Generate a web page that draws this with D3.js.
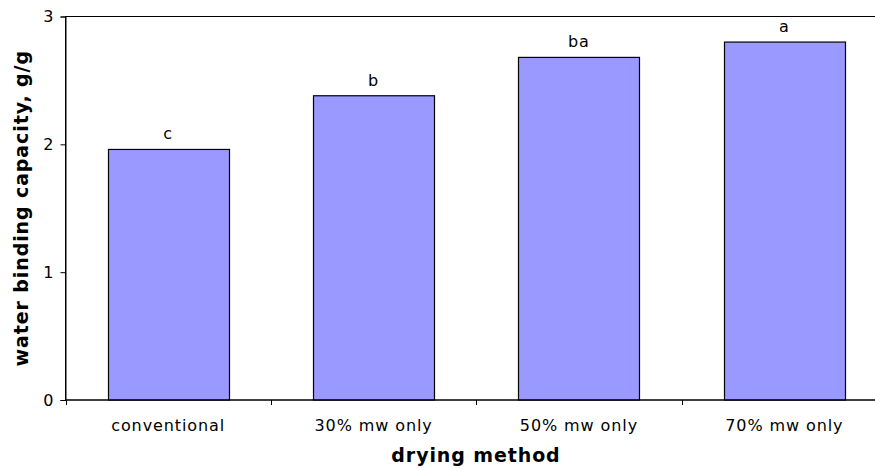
<!DOCTYPE html>
<html>
<head>
<meta charset="utf-8">
<script src="https://cdn.jsdelivr.net/npm/d3@7"></script>
<style>
  html, body { margin: 0; padding: 0; background: #fff; }
  svg { display: block; }
  text { font-family: "DejaVu Sans", Verdana, sans-serif; fill: #000; }
</style>
</head>
<body>
<svg id="chart" width="875" height="470"></svg>
<script>
// Water binding capacity by drying method
const categories = ["conventional", "30% mw only", "50% mw only", "70% mw only"];
const values = [1.96, 2.38, 2.68, 2.80];
const groupLetters = ["c", "b", "ba", "a"];
const yTicks = [0, 1, 2, 3];

const svg = d3.select("#chart");
const margin = { left: 65.5, top: 16.5, right: 887, bottom: 400 };
const labelFont = "16px";
const labelSpacing = "0.9px";

const x = d3.scaleBand()
  .domain(categories)
  .range([margin.left, margin.right])
  .paddingInner(0.41)
  .paddingOuter(0.205);

const y = d3.scaleLinear()
  .domain([0, 3])
  .range([margin.bottom, margin.top]);

// plot area frame
svg.append("rect")
  .attr("x", margin.left)
  .attr("y", margin.top)
  .attr("width", margin.right - margin.left)
  .attr("height", margin.bottom - margin.top)
  .attr("fill", "none")
  .attr("stroke", "#000")
  .attr("stroke-width", 1);

// bars
svg.append("g").selectAll("rect")
  .data(categories)
  .join("rect")
  .attr("x", d => Math.round(x(d)) + 0.5)
  .attr("y", (d, i) => y(values[i]))
  .attr("width", Math.round(x.bandwidth()))
  .attr("height", (d, i) => y(0) - y(values[i]))
  .attr("fill", "#9999ff")
  .attr("stroke", "#000")
  .attr("stroke-width", 1.2);

// significance letters above bars
svg.append("g").selectAll("text")
  .data(categories)
  .join("text")
  .attr("x", d => x(d) + x.bandwidth() / 2)
  .attr("y", (d, i) => y(values[i]) - 10)
  .attr("text-anchor", "middle")
  .style("font-size", labelFont)
  .style("letter-spacing", labelSpacing)
  .text((d, i) => groupLetters[i]);

// y axis
const yAxis = svg.append("g")
  .attr("transform", `translate(${margin.left},0)`)
  .call(d3.axisLeft(y).tickValues(yTicks).tickFormat(d3.format("d")).tickSize(5).tickPadding(7));
yAxis.select(".domain").attr("stroke", "#000");
yAxis.selectAll(".tick line").attr("stroke", "#000");
yAxis.selectAll(".tick text").style("font-size", labelFont).attr("font-family", null);

// x axis with ticks on band boundaries
const xAxisG = svg.append("g")
  .attr("transform", `translate(0,${margin.bottom})`);
xAxisG.append("line")
  .attr("x1", margin.left).attr("x2", margin.right)
  .attr("stroke", "#000");
const step = x.step();
const boundaries = d3.range(categories.length + 1).map(i => margin.left + i * step);
xAxisG.selectAll("line.tk")
  .data(boundaries)
  .join("line")
  .attr("class", "tk")
  .attr("x1", d => Math.round(d) + 0.5)
  .attr("x2", d => Math.round(d) + 0.5)
  .attr("y1", 0).attr("y2", 5)
  .attr("stroke", "#000");
xAxisG.selectAll("text")
  .data(categories)
  .join("text")
  .attr("x", d => x(d) + x.bandwidth() / 2)
  .attr("y", 31)
  .attr("text-anchor", "middle")
  .style("font-size", labelFont)
  .style("letter-spacing", labelSpacing)
  .text(d => d);

// axis titles
svg.append("text")
  .attr("x", 476)
  .attr("y", 462)
  .attr("text-anchor", "middle")
  .style("font-size", "19px")
  .style("font-weight", "bold")
  .style("letter-spacing", "0.9px")
  .text("drying method");

svg.append("text")
  .attr("transform", `translate(28,${(margin.top + margin.bottom) / 2}) rotate(-90)`)
  .attr("text-anchor", "middle")
  .style("font-size", "19px")
  .style("font-weight", "bold")
  .style("letter-spacing", "0.9px")
  .text("water binding capacity, g/g");
</script>
</body>
</html>
